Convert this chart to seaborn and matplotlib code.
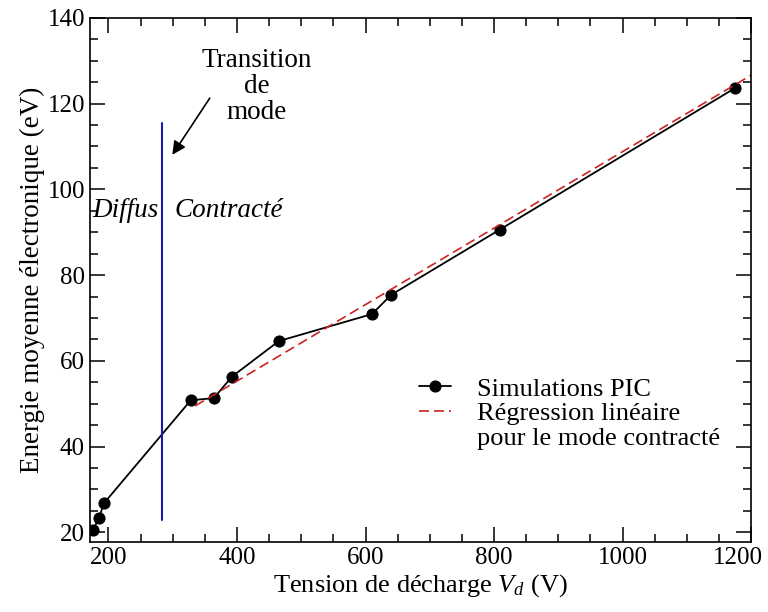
import matplotlib
matplotlib.use("Agg")
import matplotlib.pyplot as plt
import seaborn as sns
import pandas as pd
from matplotlib.ticker import MultipleLocator
from matplotlib.transforms import ScaledTranslation

# Data
tension = [176, 185, 193, 328, 364, 392, 465, 610, 640, 809, 1175]
energie = [20.6, 23.3, 26.8, 50.8, 51.3, 56.3, 64.6, 70.9, 75.4, 90.6, 123.6]
reg_x = [335, 1210]
reg_y = [49.5, 127.5]
transition_x = [283, 283]
transition_y = [22.8, 115.4]

xticks = [200, 400, 600, 800, 1000, 1200]
yticks = [20, 40, 60, 80, 100, 120, 140]

sns.set_style("ticks")
plt.rcParams['font.family'] = ['Liberation Serif', 'DejaVu Serif']
plt.rcParams['mathtext.fontset'] = 'custom'
plt.rcParams['mathtext.it'] = 'Liberation Serif:italic'
plt.rcParams['mathtext.rm'] = 'Liberation Serif'
for k in ['text.color', 'axes.labelcolor', 'xtick.color', 'ytick.color', 'axes.edgecolor']:
    plt.rcParams[k] = 'black'

fig = plt.figure(figsize=(7.68, 6.12), dpi=100)
ax = fig.add_axes([0.117, 0.114, 0.861, 0.857])

df = pd.DataFrame({"x": tension, "y": energie})
dreg = pd.DataFrame({"x": reg_x, "y": reg_y})

sns.lineplot(data=df, x="x", y="y", ax=ax, color="black", lw=1.3,
             marker="o", markersize=8, markeredgecolor="black",
             label="Simulations PIC", sort=False)
sns.lineplot(data=dreg, x="x", y="y", ax=ax, color="#cc2222", lw=1.2,
             linestyle=(0, (6, 3)), label="Régression linéaire")
ax.plot([], [], color="none", label="pour le mode contracté")
ax.plot(transition_x, transition_y, color="#1a1aaa", lw=1.5)

ax.set_xlim(171, 1200)
ax.set_ylim(17.7, 140)
ax.set_xticks(xticks)
ax.set_yticks(yticks)
ax.xaxis.set_minor_locator(MultipleLocator(50))
ax.yaxis.set_minor_locator(MultipleLocator(5))
ax.tick_params(which="both", direction="in", top=True, right=True, width=1.1, labelsize=18)
ax.tick_params(which="major", length=11)
ax.tick_params(which="minor", length=5.5)
for s in ax.spines.values():
    s.set_linewidth(1.2)
    s.set_color("black")

last = ax.get_xticklabels()[-1]
last.set_transform(last.get_transform() + ScaledTranslation(-0.13, 0, fig.dpi_scale_trans))

ax.set_xlabel(r"Tension de décharge $V_d$ (V)", fontsize=19, labelpad=2)
ax.set_ylabel("Energie moyenne électronique (eV)", fontsize=19.5, labelpad=2)

ax.text(227, 95.0, "Diffus", style="italic", fontsize=19.5, ha="center", va="center")
ax.text(302, 95.0, "Contracté", style="italic", fontsize=19.5, ha="left", va="center")
ax.text(431, 124, "Transition\nde\nmode", fontsize=19.5, ha="center", va="center", linespacing=1.05)
ax.annotate("", xy=(297, 107.5), xytext=(360, 121.8),
            arrowprops=dict(arrowstyle="-|>", color="black", lw=1.2, mutation_scale=20))

leg = ax.legend(loc="center left", bbox_to_anchor=(0.4625, 0.245), frameon=False,
                fontsize=19, handlelength=1.2, handletextpad=1.0, labelspacing=0.05)

fig.savefig("out.png", dpi=100)
